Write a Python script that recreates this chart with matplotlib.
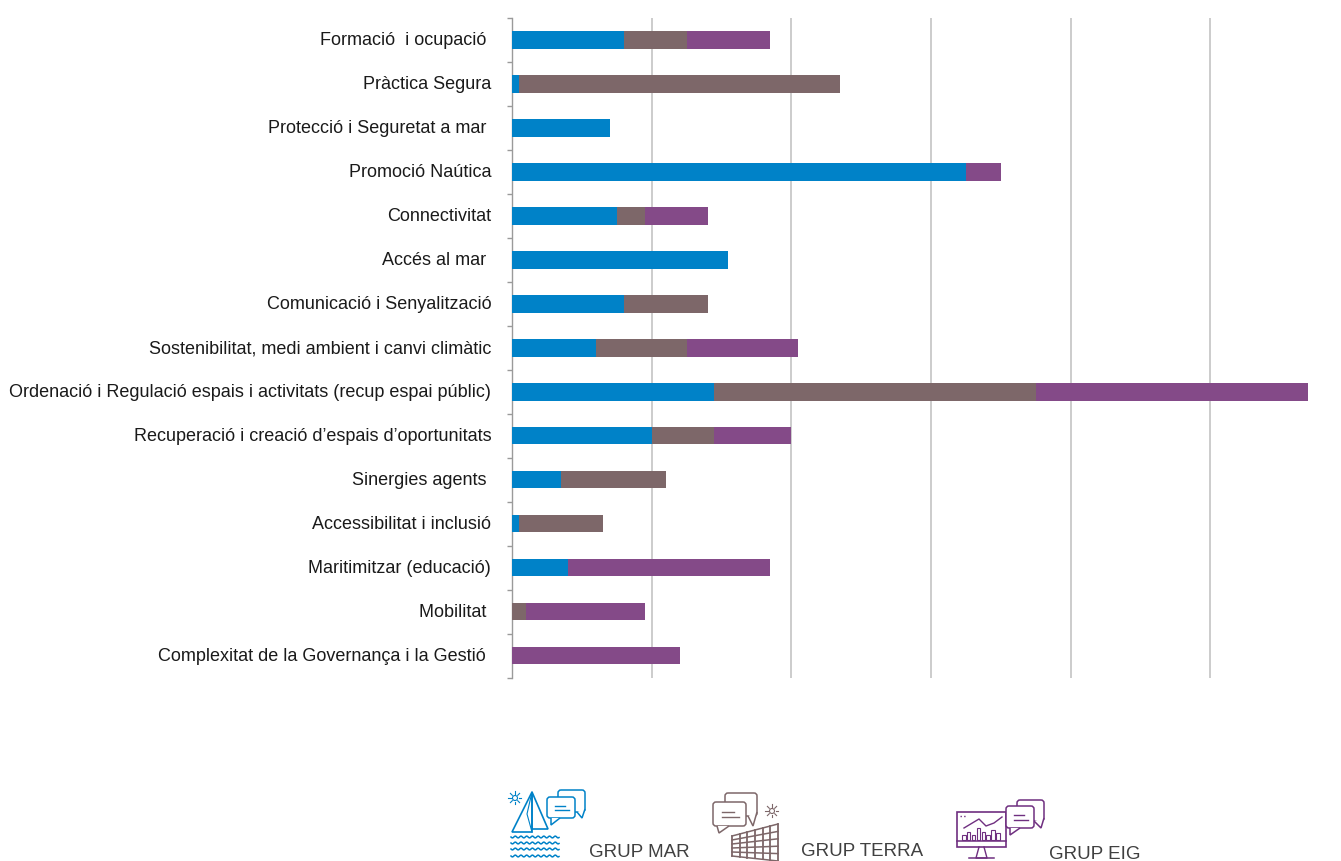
import numpy as np
import matplotlib
matplotlib.use('Agg')
import matplotlib.pyplot as plt
from matplotlib.patches import Polygon, FancyBboxPatch, Circle, Rectangle

plt.rcParams['font.family'] = ['Liberation Sans', 'DejaVu Sans']

categories = ['Formació  i ocupació ', 'Pràctica Segura', 'Protecció i Seguretat a mar ',
              'Promoció Naútica', 'Connectivitat', 'Accés al mar ',
              'Comunicació i Senyalització', 'Sostenibilitat, medi ambient i canvi climàtic',
              'Ordenació i Regulació espais i activitats (recup espai públic)',
              'Recuperació i creació d’espais d’oportunitats', 'Sinergies agents ',
              'Accessibilitat i inclusió', 'Maritimitzar (educació)', 'Mobilitat ',
              'Complexitat de la Governança i la Gestió ']
grup_mar = [16, 1, 14, 65, 15, 31, 16, 12, 29, 20, 7, 1, 8, 0, 0]
grup_terra = [9, 46, 0, 0, 4, 0, 12, 13, 46, 9, 15, 12, 0, 2, 0]
grup_eig = [12, 0, 0, 5, 9, 0, 0, 16, 39, 11, 0, 0, 29, 17, 24]

BLUE = '#0082C8'
BROWN = '#7D6769'
PURPLE = '#844A88'
W, H = 1341, 862

fig = plt.figure(figsize=(W / 100, H / 100), dpi=100)
ax = fig.add_axes([512 / W, 1 - 678.5 / H, (1308 - 512) / W, (678.5 - 19) / H])

y = np.arange(len(categories))
mar = np.array(grup_mar)
terra = np.array(grup_terra)
eig = np.array(grup_eig)
ax.barh(y, mar, height=0.4, color=BLUE, zorder=3)
ax.barh(y, terra, height=0.4, left=mar, color=BROWN, zorder=3)
ax.barh(y, eig, height=0.4, left=mar + terra, color=PURPLE, zorder=3)

ax.set_xlim(0, 114)
ax.set_ylim(len(categories) - 0.5, -0.5)
ax.set_xticks([20, 40, 60, 80, 100])
ax.tick_params(axis='x', length=0, labelbottom=False)
ax.grid(axis='x', color='#BFBFBF', lw=1.1, zorder=0)
ax.set_yticks(np.arange(len(categories) + 1) - 0.5)
ax.set_yticklabels([])
ax.tick_params(axis='y', which='major', length=3.6, width=1, color='#9A9A9A')
ax.set_yticks(y - 0.05, minor=True)
ax.set_yticklabels(categories, minor=True, fontsize=12.93, color='#1a1a1a')
ax.tick_params(axis='y', which='minor', length=0, pad=15)
for s in ['top', 'right', 'bottom']:
    ax.spines[s].set_visible(False)
ax.spines['left'].set_color('#9A9A9A')
ax.spines['left'].set_linewidth(1)

# capa en pixels per a la llegenda
lay = fig.add_axes([0, 0, 1, 1], zorder=5)
lay.set_xlim(0, W)
lay.set_ylim(H, 0)
lay.axis('off')


def bubble(x0, y0, x1, y1, tail, c, lines=True):
    lay.add_patch(FancyBboxPatch((x0 + 3, y0 + 3), x1 - x0 - 6, y1 - y0 - 6,
                                 boxstyle='round,pad=3', fc='white', ec=c, lw=1.1))
    lay.add_patch(Polygon(tail, closed=False, fc='white', ec=c, lw=1.1))
    if lines:
        mx = x0 + (x1 - x0) * 0.27
        lay.plot([mx, x1 - (x1 - x0) * 0.35], [y0 + (y1 - y0) * 0.42] * 2, c=c, lw=1)
        lay.plot([mx, x1 - (x1 - x0) * 0.2], [y0 + (y1 - y0) * 0.62] * 2, c=c, lw=1)


def sun(cx, cy, c):
    lay.add_patch(Circle((cx, cy), 2.5, fc='none', ec=c, lw=0.8))
    for a in np.arange(8) * np.pi / 4:
        lay.plot([cx + 3.8 * np.cos(a), cx + 6.5 * np.cos(a)],
                 [cy + 3.8 * np.sin(a), cy + 6.5 * np.sin(a)], c=c, lw=0.8)


# icona mar
sun(515, 799, BLUE)
lay.add_patch(Polygon([(532, 793), (512, 833), (532, 833)], fc='none', ec=BLUE, lw=1.2))
lay.add_patch(Polygon([(532, 793), (548, 830), (532, 830)], fc='none', ec=BLUE, lw=1.2))
lay.plot([532, 527, 532], [793, 815, 833], c=BLUE, lw=0.8)
xw = np.linspace(511, 559, 80)
for yw in [838, 844, 850, 857]:
    lay.plot(xw, yw + 0.9 * np.sin((xw - 511) * 1.1), c=BLUE, lw=1.1)
bubble(558, 791, 585, 813, [(577, 813), (582, 819), (585, 810)], BLUE, lines=False)
bubble(547, 798, 575, 819, [(551, 819), (551, 826), (560, 819)], BLUE)

# icona terra
bubble(725, 794, 757, 817, [(748, 817), (753, 827), (757, 813)], BROWN, lines=False)
bubble(713, 803, 746, 827, [(717, 827), (719, 834), (729, 827)], BROWN)
sun(772, 812, BROWN)
fx = np.linspace(732, 778, 7)
for xf in fx:
    t = (xf - 732) / 46
    lay.plot([xf, xf], [837 - 12 * t, 857 + 5 * t], c=BROWN, lw=1.3)
for t0 in [0, 0.2, 0.4, 0.6, 0.8, 1.0]:
    lay.plot([732, 778], [837 + 20 * t0, 825 + 37 * t0], c=BROWN, lw=1.1)

# icona eig
EIG = '#6F2F80'
lay.add_patch(Rectangle((957, 813), 49, 35, fc='white', ec=EIG, lw=1.2))
lay.plot([957, 1006], [842, 842], c=EIG, lw=1.1)
lay.plot([979, 976, 987, 984], [848, 859, 859, 848], c=EIG, lw=1)
lay.plot([969, 994], [859, 859], c=EIG, lw=1.1)
for k, hb in enumerate([5, 8, 5, 12, 8, 5, 10, 7]):
    lay.add_patch(Rectangle((962 + k * 4.9, 841 - hb), 3.6, hb, fc='none', ec=EIG, lw=0.8))
lay.plot([964, 979, 986, 994, 1002], [829, 820, 827, 824, 818], c=EIG, lw=1)
lay.plot([960, 963, 966], [817, 817, 817], c=EIG, lw=1, ls=':')
bubble(1017, 801, 1044, 822, [(1034, 822), (1041, 829), (1044, 819)], EIG, lines=False)
bubble(1006, 807, 1034, 829, [(1010, 829), (1010, 836), (1020, 829)], EIG)

lay.text(589.5, 853, 'GRUP MAR', fontsize=13.5, color='#404040', va='center', ha='left')
lay.text(801.5, 852, 'GRUP TERRA', fontsize=13.5, color='#404040', va='center', ha='left')
lay.text(1049.5, 855, 'GRUP EIG', fontsize=13.5, color='#404040', va='center', ha='left')

fig.savefig('out.png', dpi=100)
